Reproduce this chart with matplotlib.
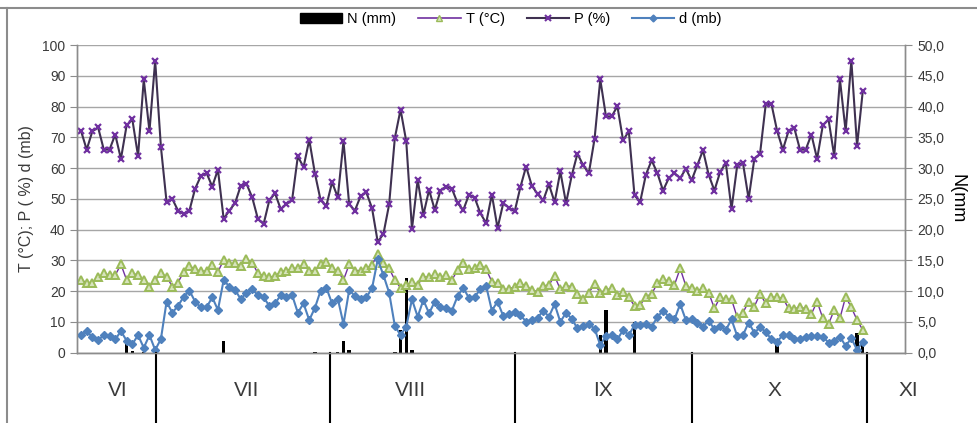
import numpy as np
import matplotlib
matplotlib.use("Agg")
import matplotlib.pyplot as plt
from matplotlib.lines import Line2D
from matplotlib.transforms import blended_transform_factory

plt.rcParams["font.family"] = ["Liberation Sans", "DejaVu Sans"]

# daily series, 18 June - 2 November
temp = [
    23.6, 22.8, 22.8, 24.5, 25.8, 25.2, 25.2, 28.7, 23.6, 25.8, 25.2, 23.6, 21.5, 23.6, 25.8, 24.7,
    21.5, 22.8, 26.3, 28.2, 27.1, 26.5, 26.5, 28.5, 26.3, 30.1, 29.0, 29.0, 28.2, 30.4, 29.3, 25.8,
    24.9, 24.5, 24.9, 26.3, 26.7, 27.4, 27.4, 28.8, 26.5, 26.7, 28.7, 29.4, 27.4, 26.7,
    23.6, 28.7, 26.7, 26.7, 27.4, 28.5, 32.0, 29.0, 27.4, 23.6, 21.1, 22.0, 23.1, 22.0, 24.7, 24.5,
    25.5, 24.5, 25.2, 23.6, 26.9, 29.0, 27.1, 27.4, 28.5, 27.1, 23.1, 22.5, 20.6, 20.6, 21.5, 22.5,
    21.7, 20.4, 19.8, 21.7, 22.0, 24.9, 20.6, 21.7, 21.5, 19.1, 17.3, 19.5, 22.3, 19.5,
    20.4, 20.9, 18.7, 19.8, 18.0, 15.2, 15.5, 18.2, 19.1, 22.5, 23.8, 23.3, 22.0, 27.4, 21.7, 20.9,
    20.2, 20.9, 19.5, 14.4, 18.0, 17.3, 17.3, 11.5, 13.0, 16.6, 15.0, 19.1, 16.0, 18.0, 18.0, 17.7,
    14.4, 14.1, 15.0, 14.1, 12.6, 16.6, 11.2, 9.3, 13.9, 11.2, 18.2, 14.7, 10.6, 7.4,
]
humid = [
    72.1, 66.0, 72.0, 73.2, 66.0, 66.0, 70.9, 63.0, 73.9, 75.8, 63.9, 88.8, 72.0, 94.9, 67.0, 48.9,
    50.0, 46.2, 45.1, 46.2, 53.3, 57.4, 58.4, 54.0, 59.5, 43.5, 46.2, 48.6, 54.3, 54.9, 50.5, 43.5,
    41.8, 49.5, 51.8, 46.7, 48.3, 49.7, 63.8, 60.3, 69.2, 58.2, 49.5, 47.8, 55.4, 50.5,
    68.7, 48.2, 46.2, 50.9, 52.1, 47.0, 36.0, 38.6, 48.2, 69.8, 79.0, 68.7, 40.2, 56.2, 44.8, 52.9,
    46.4, 52.7, 54.0, 53.3, 48.6, 46.4, 51.4, 50.3, 45.3, 42.1, 51.4, 40.5, 48.6, 47.1, 45.9, 53.8,
    60.5, 54.3, 51.6, 49.5, 54.7, 48.9, 58.9, 48.6, 57.6, 64.7, 60.9, 58.4, 69.5, 88.8,
    76.8, 76.8, 80.1, 69.0, 72.0, 51.1, 49.1, 57.9, 62.5, 58.4, 52.7, 56.7, 58.4, 56.7, 59.8, 56.0,
    60.9, 65.8, 57.8, 52.7, 58.7, 61.7, 46.7, 60.9, 61.7, 50.0, 63.0, 64.7, 80.8, 80.8, 72.0, 66.0,
    72.1, 73.0, 66.0, 66.0, 70.9, 63.0, 73.9, 75.8, 63.9, 88.8, 72.0, 94.9, 67.2, 85.0,
]
deficit = [
    5.7, 7.0, 5.0, 4.1, 5.7, 5.4, 4.3, 7.0, 3.9, 2.8, 5.7, 1.6, 5.7, 0.9, 4.4, 16.6,
    13.0, 15.2, 18.2, 20.2, 16.6, 14.7, 14.7, 18.0, 13.9, 23.6, 21.5, 20.4, 17.4, 19.5, 20.6, 18.7,
    18.0, 15.2, 16.0, 18.7, 18.0, 18.7, 13.0, 16.0, 10.6, 14.6, 20.2, 21.1, 16.0, 17.6,
    9.3, 20.4, 18.4, 17.3, 18.0, 20.9, 30.3, 25.2, 19.5, 8.7, 5.7, 8.5, 17.3, 11.7, 17.1, 12.8,
    16.6, 14.7, 14.4, 13.7, 18.4, 21.1, 17.7, 18.2, 20.6, 21.7, 13.7, 16.6, 11.9, 12.6, 13.3, 12.2,
    10.1, 10.6, 11.2, 13.7, 11.7, 15.8, 10.0, 13.0, 11.0, 7.9, 8.7, 9.3, 7.8, 2.5,
    5.4, 5.7, 4.3, 7.4, 5.7, 9.0, 9.0, 9.3, 8.5, 11.5, 13.7, 11.7, 10.8, 15.8, 10.6, 10.8,
    9.8, 8.5, 10.4, 7.6, 8.7, 7.4, 10.8, 5.4, 5.7, 9.8, 6.5, 8.2, 6.8, 4.3, 3.6, 5.7,
    5.7, 4.3, 4.3, 5.2, 5.4, 5.4, 5.2, 3.3, 3.9, 5.2, 2.2, 4.7, 0.9, 3.6,
]
rain_day = [8, 9, 11, 25, 41, 45, 46, 47, 55, 56, 57, 58, 91, 92, 97, 122, 136, 137]
rain_mm = [1.6, 0.2, 0.15, 1.9, 0.15, 0.15, 1.9, 0.5, 0.15, 3.7, 12.1, 0.4, 2.8, 7.0, 5.0, 1.5, 3.2, 1.2]

months = ["VI", "VII", "VIII", "IX", "X", "XI"]
month_mid = [6.5, 29.1, 57.7, 91.5, 121.6, 144.9]
month_edge = [13.2, 43.7, 76.1, 107.1, 137.7]

left_ticks = list(range(0, 101, 10))
right_ticks = [0, 5, 10, 15, 20, 25, 30, 35, 40, 45, 50]

days = np.arange(len(temp))
grey = "#8c8c8c"
txt = "#3a3a3a"

fig = plt.figure(figsize=(9.77, 4.23), dpi=100)
ax = fig.add_axes([0.0791, 0.1662, 0.8472, 0.7274])
ax2 = ax.twinx()

ax2.bar(rain_day, rain_mm, width=0.6, color="black", zorder=2)
ax2.set_ylim(0, 50)
ax2.set_yticks(right_ticks)
ax2.set_yticklabels([f"{v:.1f}".replace(".", ",") for v in right_ticks], fontsize=10, color=txt)
ax2.yaxis.grid(True, color="#a6a6a6", lw=1)
ax2.set_axisbelow(True)
ax2.set_ylabel("N(mm", rotation=270, fontsize=13, labelpad=15, color="black")

ax.plot(days, temp, color="#7030a0", lw=1.0, marker="^", ms=6,
        mfc="#d7e4bd", mec="#9bbb59", mew=1.4, label="T (°C)")
ax.plot(days, humid, color="#3f3151", lw=1.5, marker="x", ms=5,
        mec="#7030a0", mew=1.6, label="P (%)")
ax.plot(days, deficit, color="#4f81bd", lw=1.5, marker="D", ms=4,
        mfc="#4f81bd", mec="#4f81bd", label="d (mb)")

ax.set_zorder(ax2.get_zorder() + 1)
ax.patch.set_visible(False)

ax.set_xlim(-0.65, 144.4)
ax.set_ylim(0, 100)
ax.set_yticks(left_ticks)
ax.tick_params(axis="y", labelsize=10, labelcolor=txt, color=grey, length=5, direction="out")
ax2.tick_params(axis="y", color=grey, length=5, direction="out", pad=4)
ax.set_xticks([])
ax.set_ylabel("T (°C); P ( %) d (mb)", fontsize=11.5, color=txt, labelpad=6)

for a in (ax, ax2):
    a.spines["top"].set_visible(False)
    for side in ("left", "right", "bottom"):
        a.spines[side].set_color(grey)
        a.spines[side].set_linewidth(1.0)

# month separators and labels under the axis
trans = blended_transform_factory(ax.transData, ax.transAxes)
for e in month_edge:
    ax.plot([e, e], [0, -0.235], transform=trans, clip_on=False, color="black", lw=1.5)
for m, x in zip(months, month_mid):
    ax.text(x, -0.124, m, transform=trans, ha="center", va="center", fontsize=15, color=txt)

handles = [
    plt.Rectangle((0, 0), 1, 1, color="black"),
    Line2D([], [], color="#7030a0", lw=1.2, marker="^", ms=5, mfc="#d7e4bd", mec="#9bbb59"),
    Line2D([], [], color="#3f3151", lw=1.5, marker="x", ms=4, mec="#7030a0", mew=1.5),
    Line2D([], [], color="#4f81bd", lw=1.5, marker="D", ms=3.5, mfc="#4f81bd", mec="#4f81bd"),
]
fig.legend(handles, ["N (mm)", "T (°C)", "P (%)", "d (mb)"], loc="center",
           bbox_to_anchor=(0.523, 0.955), ncol=4, frameon=False, fontsize=10.5,
           handlelength=2.9, handleheight=0.6, columnspacing=1.5, handletextpad=0.35)

# chart border visible at top and left
fig.add_artist(Line2D([0, 1], [0.981, 0.981], transform=fig.transFigure, color=grey, lw=1.5))
fig.add_artist(Line2D([0.0072, 0.0072], [0, 0.981], transform=fig.transFigure, color=grey, lw=1.5))

fig.savefig("out.png", dpi=100)
